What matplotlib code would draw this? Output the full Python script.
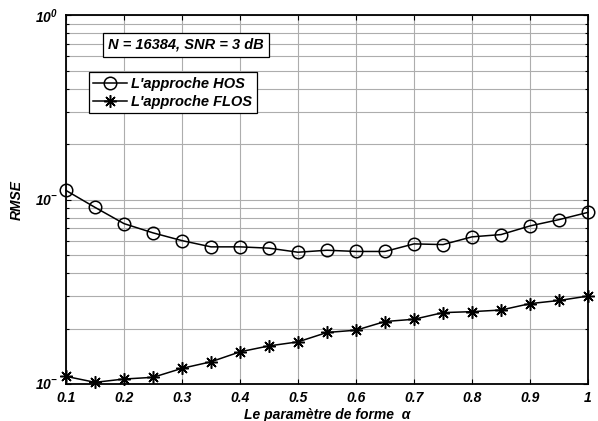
import matplotlib
matplotlib.use("Agg")
import matplotlib.pyplot as plt
from matplotlib.ticker import FixedLocator, FixedFormatter, LogLocator, NullFormatter

plt.rcParams['font.family'] = ['Liberation Sans', 'DejaVu Sans']
plt.rcParams['font.weight'] = 'bold'
plt.rcParams['font.style'] = 'italic'
plt.rcParams['axes.labelweight'] = 'bold'
plt.rcParams['mathtext.fontset'] = 'custom'
plt.rcParams['mathtext.rm'] = 'Liberation Sans:italic:bold'
plt.rcParams['mathtext.it'] = 'Liberation Sans:italic:bold'
plt.rcParams['mathtext.bf'] = 'Liberation Sans:italic:bold'

# Shape parameter alpha and RMSE for both estimators
alpha = [0.10, 0.15, 0.20, 0.25, 0.30, 0.35, 0.40, 0.45, 0.50, 0.55,
         0.60, 0.65, 0.70, 0.75, 0.80, 0.85, 0.90, 0.95, 1.00]
rmse_hos = [0.1123, 0.0909, 0.0742, 0.0661, 0.0600, 0.0555, 0.0555, 0.0546,
            0.0519, 0.0532, 0.0524, 0.0524, 0.0576, 0.0571, 0.0629, 0.0647,
            0.0721, 0.0780, 0.0854]
rmse_flos = [0.01100, 0.01021, 0.01064, 0.01087, 0.01216, 0.01320, 0.01495,
             0.01610, 0.01693, 0.01904, 0.01959, 0.02183, 0.02246, 0.02440,
             0.02470, 0.02520, 0.02730, 0.02840, 0.03000]

x_ticks = [0.1, 0.2, 0.3, 0.4, 0.5, 0.6, 0.7, 0.8, 0.9, 1.0]
x_ticklabels = ['0.1', '0.2', '0.3', '0.4', '0.5', '0.6', '0.7', '0.8', '0.9', '1']
y_ticks = [0.01, 0.1, 1.0]
y_ticklabels = [r'$10^{-}$', r'$10^{-}$', r'$10^{0}$']

series_labels = ["L'approche HOS", "L'approche FLOS"]
info_text = 'N = 16384, SNR = 3 dB'

fig = plt.figure(figsize=(5.98, 4.21), dpi=100)
ax = fig.add_axes([0.1104, 0.0879, 0.8729, 0.8753])

ax.set_yscale('log')
ax.set_xlim(0.1, 1.0)
ax.set_ylim(0.01, 1.0)

ax.plot(alpha, rmse_hos, color='black', lw=1.1, marker='o', markersize=9,
        markerfacecolor='none', markeredgecolor='black', markeredgewidth=1.1,
        label=series_labels[0], clip_on=False, zorder=3)
ax.plot(alpha, rmse_flos, color='black', lw=1.1, marker=(8, 2, 0), markersize=9,
        markeredgewidth=1.1, label=series_labels[1], clip_on=False, zorder=3)

ax.xaxis.set_major_locator(FixedLocator(x_ticks))
ax.xaxis.set_major_formatter(FixedFormatter(x_ticklabels))
ax.yaxis.set_major_locator(FixedLocator(y_ticks))
ax.yaxis.set_major_formatter(FixedFormatter(y_ticklabels))
ax.yaxis.set_minor_locator(LogLocator(base=10, subs=range(2, 10)))
ax.yaxis.set_minor_formatter(NullFormatter())

ax.tick_params(which='both', direction='in', top=True, right=True,
               labelsize=10, width=0.8)
ax.tick_params(which='major', length=3.5, pad=5)
ax.tick_params(which='minor', length=2.5)
ax.tick_params(axis='y', which='major', pad=6)

ax.grid(True, which='major', axis='x', color='0.68', linestyle='-', lw=0.8)
ax.grid(True, which='both', axis='y', color='0.68', linestyle='-', lw=0.8)
ax.set_axisbelow(True)

for sp in ax.spines.values():
    sp.set_linewidth(1.3)

ax.set_xlabel('Le paramètre de forme  α', fontsize=10, fontweight='bold',
              labelpad=2)
ax.set_ylabel('RMSE', fontsize=10, fontweight='bold', labelpad=8)

ax.text(0.229, 0.92, info_text, transform=ax.transAxes, fontsize=10.5,
        ha='center', va='center', zorder=5,
        bbox=dict(boxstyle='square,pad=0.35', facecolor='white',
                  edgecolor='black', lw=0.9))

leg = ax.legend(loc='upper left', bbox_to_anchor=(0.044, 0.846),
                borderaxespad=0, fancybox=False, framealpha=1,
                edgecolor='black', fontsize=10.5, handlelength=2.3,
                handletextpad=0.3, borderpad=0.3, labelspacing=0.3)
leg.get_frame().set_linewidth(0.9)
leg.set_zorder(5)

fig.savefig('out.png', dpi=100)
